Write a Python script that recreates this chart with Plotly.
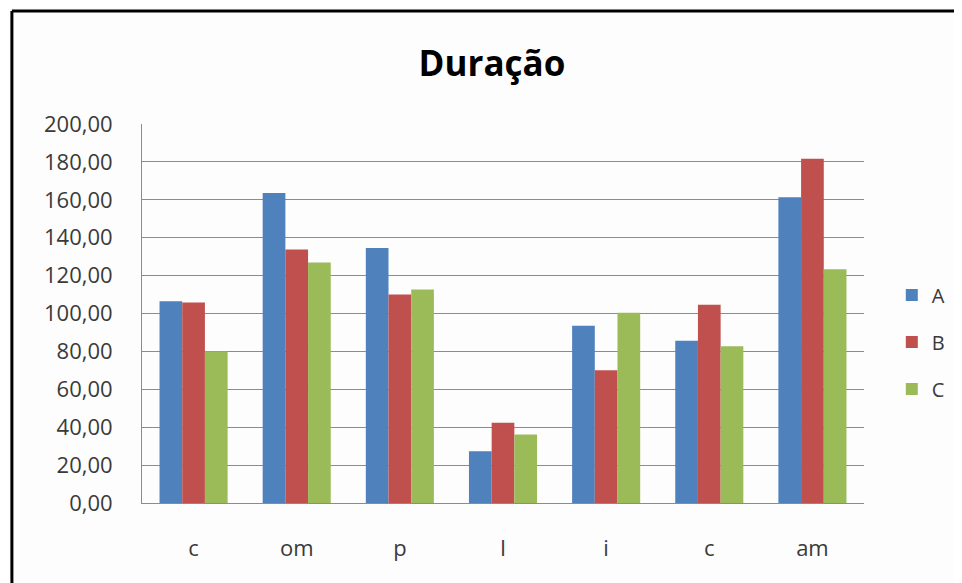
import plotly.graph_objects as go

# data
categories = ["c", "om", "p", "l", "i", "c", "am"]
series_a = [106.5, 163.6, 134.5, 27.3, 93.5, 85.6, 161.4]
series_b = [105.8, 133.8, 110.0, 42.3, 70.1, 104.6, 181.7]
series_c = [79.9, 126.9, 112.7, 36.1, 100.4, 82.7, 123.4]
series_names = ["A", "B", "C"]
colors = ["#4F81BD", "#C0504D", "#9BBB59"]

# positions instead of names, because "c" shows up twice
positions = list(range(len(categories)))

fig = go.Figure()
for i, (name, vals) in enumerate(zip(series_names, [series_a, series_b, series_c])):
    fig.add_trace(go.Bar(
        x=positions, y=vals, name=name,
        marker=dict(color=colors[i], line=dict(width=0)),
        legendgroup=name,
    ))

# the page body has an 8px margin, so the figure is drawn 8px in
OFF = 8
W, H = 962 - OFF, 583 - OFF
L, T = 142 - OFF, 124 - OFF
R, B = W - (869 - OFF), H - (503 - OFF)
pw, ph = W - L - R, H - T - B


def px_x(p):
    return (p - OFF - L) / pw


def px_y(p):
    return (H - B - (p - OFF)) / ph


# black frame on the left and top edges
border = dict(color="black", width=3)
fig.add_shape(type="line", xref="paper", yref="paper",
              x0=px_x(11), x1=px_x(11), y0=px_y(11), y1=px_y(600), line=border)
fig.add_shape(type="line", xref="paper", yref="paper",
              x0=px_x(11), x1=px_x(980), y0=px_y(11), y1=px_y(11), line=border)

fig.update_layout(
    width=W, height=H,
    margin=dict(l=L, r=R, t=T, b=B),
    paper_bgcolor="#fdfdfd",
    plot_bgcolor="#fdfdfd",
    font=dict(family="Open Sans, sans-serif", color="#3a3a3a", size=22),
    separators=",.",
    barmode="group",
    bargap=0.34,
    bargroupgap=0,
    title=dict(
        text="<b>Duração</b>",
        font=dict(size=35, color="#000000"),
        x=(492 - OFF) / W, xref="container", xanchor="center",
        y=1 - (64 - OFF) / H, yref="container", yanchor="middle",
    ),
    legend=dict(
        x=px_x(897), y=px_y(342), xanchor="left", yanchor="middle",
        font=dict(size=20, color="#3a3a3a"),
        tracegroupgap=18,
        traceorder="grouped",
        bgcolor="rgba(0,0,0,0)",
    ),
    showlegend=True,
)

fig.update_xaxes(
    tickvals=positions, ticktext=categories,
    range=[-0.5, len(categories) - 0.5],
    showgrid=False, zeroline=False,
    showline=True, linecolor="#8c8c8c", linewidth=1,
    ticks="", ticklabelstandoff=26,
)
fig.update_yaxes(
    range=[0, 200], dtick=20, tickformat=".2f",
    showgrid=True, gridcolor="#8c8c8c", gridwidth=1,
    zeroline=False,
    showline=True, linecolor="#8c8c8c", linewidth=1,
    ticks="", ticklabelstandoff=24,
)

fig.write_html("out.html")
